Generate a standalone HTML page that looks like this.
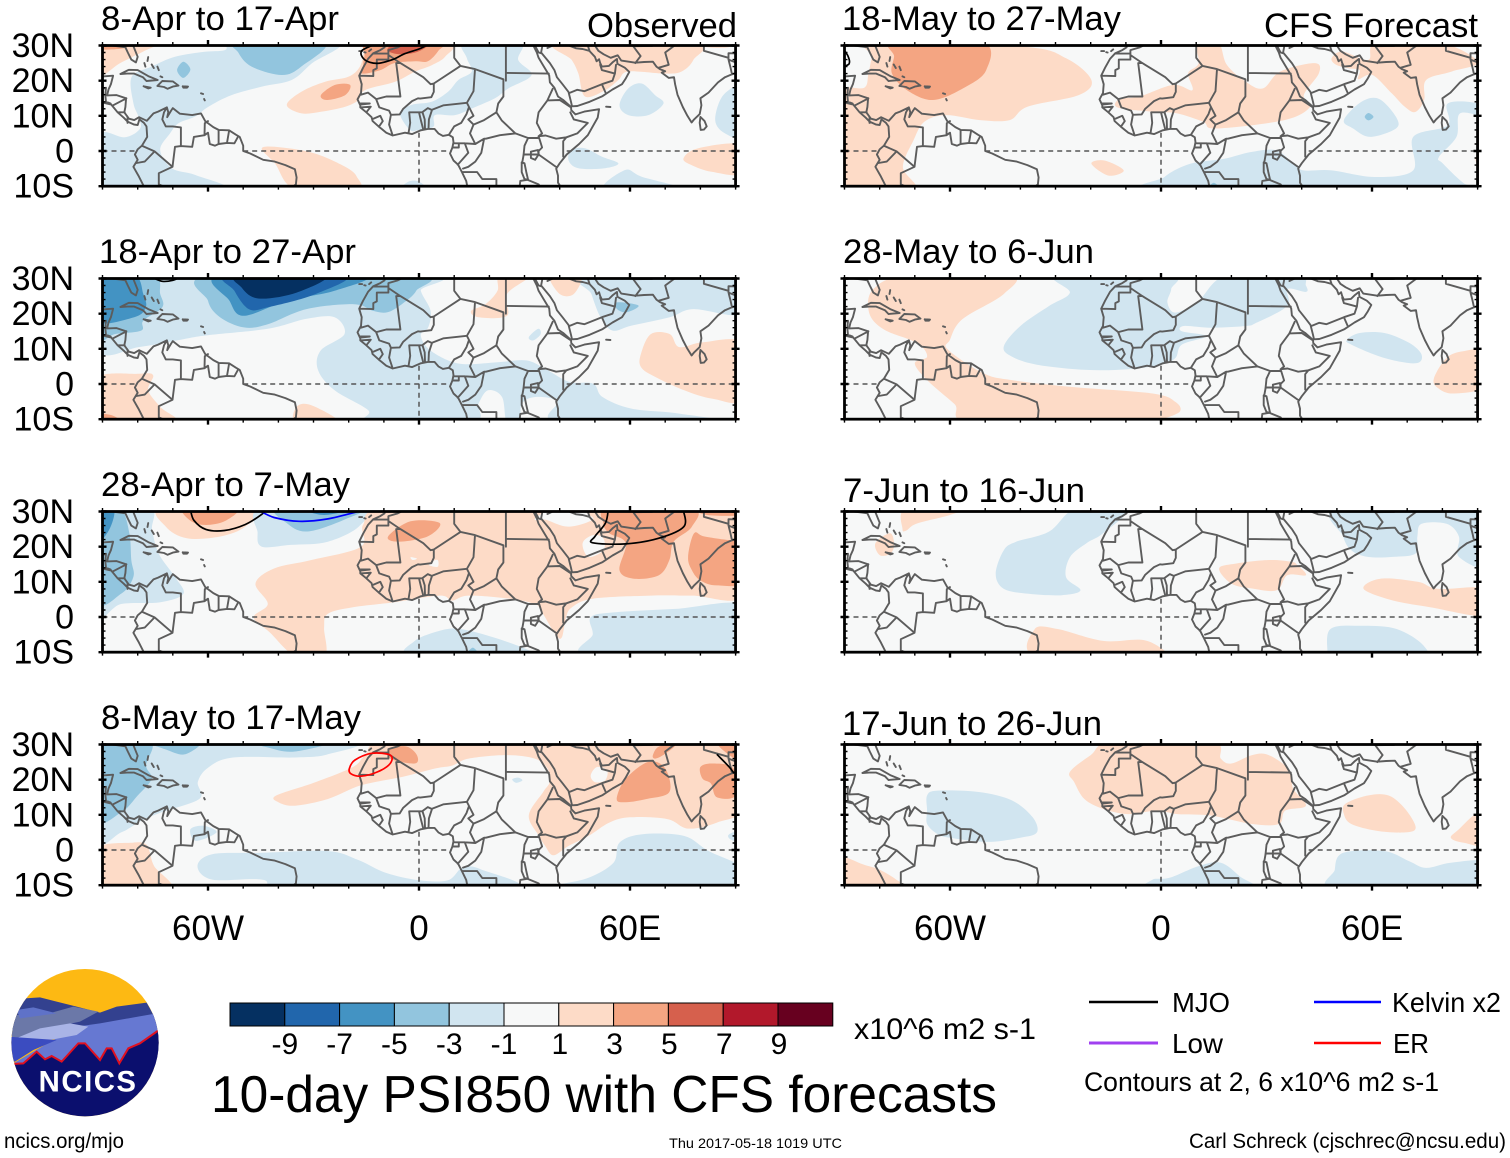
<!DOCTYPE html>
<html lang="en">
<head>
<meta charset="utf-8">
<title>10-day PSI850 with CFS forecasts</title>
<style>
html,body{margin:0;padding:0;background:#fff;width:1510px;height:1158px;overflow:hidden}
svg{display:block}
text{font-family:"Liberation Sans",sans-serif;fill:#000}
</style>
</head>
<body>
<svg id="chart" xmlns="http://www.w3.org/2000/svg" width="1510" height="1158" viewBox="0 0 1510 1158">
  <g id="panels"></g>

  <g font-size="34">
    <text x="101" y="30" textLength="238" lengthAdjust="spacingAndGlyphs">8-Apr to 17-Apr</text>
    <text x="99" y="263" textLength="257" lengthAdjust="spacingAndGlyphs">18-Apr to 27-Apr</text>
    <text x="101" y="496" textLength="249" lengthAdjust="spacingAndGlyphs">28-Apr to 7-May</text>
    <text x="101" y="729" textLength="260" lengthAdjust="spacingAndGlyphs">8-May to 17-May</text>
    <text x="842" y="30" textLength="279" lengthAdjust="spacingAndGlyphs">18-May to 27-May</text>
    <text x="843" y="263" textLength="251" lengthAdjust="spacingAndGlyphs">28-May to 6-Jun</text>
    <text x="843" y="502" textLength="242" lengthAdjust="spacingAndGlyphs">7-Jun to 16-Jun</text>
    <text x="842" y="735" textLength="260" lengthAdjust="spacingAndGlyphs">17-Jun to 26-Jun</text>
    <text x="587" y="37" textLength="150" lengthAdjust="spacingAndGlyphs">Observed</text>
    <text x="1264" y="37" textLength="214" lengthAdjust="spacingAndGlyphs">CFS Forecast</text>
  </g>

  <g id="colorbar"></g>
  <text x="854" y="1039" font-size="30" textLength="182" lengthAdjust="spacingAndGlyphs">x10^6 m2 s-1</text>
  <text x="211" y="1112" font-size="52" textLength="786" lengthAdjust="spacingAndGlyphs">10-day PSI850 with CFS forecasts</text>

  <g font-size="28">
    <g>
      <line x1="1089" y1="1002" x2="1158" y2="1002" stroke="#000" stroke-width="2.4"/>
      <text x="1172" y="1012" textLength="58" lengthAdjust="spacingAndGlyphs">MJO</text>
    </g>
    <g>
      <line x1="1314" y1="1002" x2="1381" y2="1002" stroke="#0000ff" stroke-width="2.4"/>
      <text x="1392" y="1012" textLength="109" lengthAdjust="spacingAndGlyphs">Kelvin x2</text>
    </g>
    <g>
      <line x1="1089" y1="1043" x2="1158" y2="1043" stroke="#a040f0" stroke-width="3"/>
      <text x="1172" y="1053" textLength="51" lengthAdjust="spacingAndGlyphs">Low</text>
    </g>
    <g>
      <line x1="1314" y1="1043" x2="1381" y2="1043" stroke="#ff0000" stroke-width="2.4"/>
      <text x="1393" y="1053" textLength="36" lengthAdjust="spacingAndGlyphs">ER</text>
    </g>
    <text x="1084" y="1091" font-size="27" textLength="355" lengthAdjust="spacingAndGlyphs">Contours at 2, 6 x10^6 m2 s-1</text>
  </g>

  <text x="4" y="1148" font-size="21" textLength="120" lengthAdjust="spacingAndGlyphs">ncics.org/mjo</text>
  <text x="669" y="1148" font-size="14" textLength="173" lengthAdjust="spacingAndGlyphs">Thu 2017-05-18 1019 UTC</text>
  <text x="1189" y="1148" font-size="21" textLength="317" lengthAdjust="spacingAndGlyphs">Carl Schreck (cjschrec@ncsu.edu)</text>

  <g transform="translate(0,960) scale(0.33333)">
    <defs><clipPath id="logo-clip"><circle cx="255" cy="248" r="221"/></clipPath></defs>
    <g clip-path="url(#logo-clip)">
      <rect x="0" y="0" width="510" height="500" fill="#fdb913"/>
      <polygon points="75,115 120,112 170,125 230,140 300,158 350,140 440,128 480,200 20,210" fill="#33418f"/>
      <polygon points="30,215 50,165 130,165 220,140 295,155 240,185 100,215 40,240" fill="#6b78a8"/>
      <polygon points="50,150 100,142 170,160 60,175" fill="#5f72c8"/>
      <polygon points="40,310 100,275 230,200 300,190 470,160 490,210 480,320" fill="#6678d2"/>
      <polygon points="55,232 120,205 210,190 265,200 230,225 150,240 90,245" fill="#a9b4e6"/>
      <polygon points="25,230 170,240 100,270 45,305 25,305" fill="#3b4cc0"/>
      <polygon points="30,312 70,310 110,275 135,298 155,288 185,305 235,250 255,250 300,300 320,265 335,265 358,310 385,265 420,250 480,208 490,480 20,480" fill="#0b0f6e" stroke="#e01020" stroke-width="6"/>
      <text x="262" y="395" font-size="88" font-weight="bold" text-anchor="middle" textLength="292" lengthAdjust="spacing" style="fill:#fff">NCICS</text>
    </g>
  </g>
</svg>

<script>
// ---- colour bands (contour interval 2 x10^6 m2 s-1) ----
const bandValues = [-10,-8,-6,-4,-2,0,2,4,6,8,10];
const bandColors = ['#053061','#2166ac','#4393c3','#92c5de','#d1e5f0','#f7f8f8','#fddbc7','#f4a582','#d6604d','#b2182b','#67001f'];
const colorbarTicks = ['-9','-7','-5','-3','-1','1','3','5','7','9'];

// ---- axis labels ----
const latTicks = [30,20,10,0,-10];
const latLabels = ['30N','20N','10N','0','10S'];
const lonTicks = [-60,0,60];
const lonLabels = ['60W','0','60E'];

// ---- filled anomaly regions, each [band, [[lon,lat],...]] ----
const fillsApr8 = [
 [2,[[-91,31],[-74,31],[-78,28.5],[-85,25],[-91,21.5]]],
 [4,[[-91,31],[-82,31],[-84,29.2],[-91,29]]],
 [-2,[[-51.4,31],[-22.9,31],[-30.5,24.9],[-36.2,20.2],[-44.7,18.3],[-53.3,15.9],[-59.9,12.6],[-63.7,9.8],[-68.4,7.9],[-70.8,5],[-73.6,.3],[-70.3,-4.9],[-63.7,-6.8],[-55.6,-11],[-91,-11],[-91,4.5],[-83.6,3.9],[-79.3,6.4],[-79.8,9.8],[-81.2,13.6],[-81.7,21.1],[-76,24],[-69.4,26.8],[-60.9,28.2],[-55.2,28.7]]],
 [-4,[[-51.4,31],[-27,31],[-33.5,24],[-39,21.6],[-47.6,24],[-51.4,28]]],
 [-4,[[-67,25.4],[-65,23.2],[-67,20.8],[-68.8,23]]],
 [2,[[-37.6,13.1],[-33.4,16.9],[-26.7,19.7],[-20.1,21.1],[-16.8,24],[-15.4,28.7],[-13.5,31],[8.8,31],[7.4,26.8],[3.6,24.4],[-1.1,22.6],[-6.8,19.7],[-15.4,17.3],[-17.2,14.5],[-21,12.6],[-27.7,11.2],[-33.4,10.7]]],
 [4,[[-27.9,15.9],[-23.9,18.8],[-19.6,18.8],[-21,15.9],[-26.2,14.5]]],
 [4,[[-16,23.5],[-15.5,27],[-14,31],[6,31],[5.5,28.5],[2.5,25.5],[-1,25.5],[-7,25],[-11,23],[-16,22]]],
 [6,[[-9,29],[-6,31],[3,31],[2,29.5],[-1,28],[-5,27.5],[-8,28]]],
 [-2,[[13,31],[28.7,31],[28.2,25.9],[32,21.6],[25.4,17.8],[21.6,15],[15,12.1],[10.2,10.2],[4.5,10.2],[4.1,6.9],[0,6],[-2.6,6],[-5.4,10.7],[-2.1,13.1],[3.6,14],[8.3,16.9],[11.2,20.2],[15,22.6],[13.6,26.4]]],
 [2,[[39.6,31],[78.5,31],[78,25.9],[74.7,22.6],[70,22],[59.5,22.6],[56.7,20.2],[52.9,17.3],[47.2,15.5],[45.3,22],[43.4,25.9]]],
 [2,[[80,31],[88,31],[88,29.5],[82,29.5]]],
 [-2,[[57,13],[59.5,17.8],[63.3,19.2],[67.1,15.9],[69.5,13.5],[65.2,10.2],[59.5,10.2]]],
 [-2,[[84.2,8.8],[86.5,15.9],[92,17.8],[92,4.5],[87,5]]],
 [-2,[[42.5,-2.6],[43.4,.3],[47.2,.8],[52,-1.6],[56.7,-3.5],[52.9,-4.9],[45.3,-4.9]]],
 [-2,[[53,-11],[58.6,-5.4],[63.3,-7.3],[75,-11]]],
 [2,[[75.2,-2.1],[79.4,.8],[92,1.7],[92,-6.4],[83.2,-5.9],[77.5,-4]]],
 [2,[[-44.7,.8],[-39,1],[-29.6,-.7],[-21,-4.5],[-17.7,-7.3],[-17.7,-11],[-35,-11],[-41,-3.5]]],
 [-2,[[-5,-11],[-3,-8.7],[0,-8.7],[2,-11]]]
];
const fillsApr18 = [
 [-2,[[-91,31],[.5,31],[.5,26.5],[3.3,20.8],[2.6,16.1],[.5,13.8],[3.3,9.5],[11.4,5.8],[22.3,6.2],[30.5,6.7],[35.9,4.3],[42.7,.6],[49.5,.1],[52.2,-3.7],[60.4,-7],[74,-8.4],[86,-11],[40,-11],[39.3,-5],[33.2,-3.7],[29.2,-5.6],[28.6,-11],[25,-11],[23.6,-3.7],[19.6,-1.8],[16.9,-5.6],[14.8,-11],[-14.4,-11],[-14.4,-7.5],[-24,-1.8],[-28.7,3.9],[-28,9.5],[-21.2,14.2],[-24,19],[-32.1,18.5],[-43,15.7],[-60.7,13.8],[-68.8,12.4],[-79.7,10.5],[-91,9.5]]],
 [-2,[[47.5,31],[92,31],[92,20],[78,21.3],[71.3,19],[60.4,16.6],[55,15.2],[51.6,19],[49,25.6]]],
 [-2,[[31.2,13.3],[33.9,15.7],[34.6,14.2],[32.5,12.4]]],
 [2,[[63.1,8.6],[65.9,14.2],[71.3,14.2],[74,10.5],[80.8,11.9],[92,11.4],[92,-4.2],[83.5,-4.2],[75.4,-1.8],[67.2,2],[63.1,4.8]]],
 [2,[[14.8,20.8],[18.9,22.7],[22.3,26.5],[23,31],[31.8,31],[25,25.6],[25,19.4],[16.9,19]]],
 [2,[[37.3,31],[46,31],[44,25.6],[40,25.6]]],
 [2,[[-92,1.5],[-79.7,2.9],[-75.6,2.5],[-77,-1.8],[-73.6,-6.5],[-69.5,-11],[-92,-11]]],
 [4,[[-92,-8.5],[-87,-9],[-85,-11],[-92,-11]]],
 [2,[[-34.8,-6.5],[-30.7,-6],[-22.6,-11],[-34.8,-11]]],
 [-4,[[-92,31],[-75.6,31],[-73.6,25.6],[-73,21.8],[-78.4,18],[-79,15.2],[-86.5,14.2],[-92,12.8]]],
 [-6,[[-92,31],[-81,31],[-78.4,25.6],[-77.7,21.8],[-81,19],[-92,18]]],
 [-4,[[-59.3,31],[-.8,31],[-.8,26.5],[-4.9,22.7],[-9,20.4],[-13,20.8],[-18.5,22.7],[-32,21.3],[-43,17],[-49.8,16.1],[-56.6,19],[-60,23.7]]],
 [-6,[[-56.6,31],[-15.8,31],[-24,26.5],[-37.6,23.7],[-49.8,19.4],[-53.9,23.7]]],
 [-8,[[-53.9,31],[-21.2,31],[-29.4,25.6],[-43,21.8],[-48.4,21.3],[-52.5,26.5]]],
 [-10,[[-51.2,31],[-26.7,31],[-34.8,26],[-45.7,24.3],[-50.5,27.5]]],
 [-4,[[56.3,23.2],[62.4,22.3],[59,20.4],[56.3,21.3]]]
];
const fillsApr28 = [
 [-2,[[-92,31],[-76.5,31],[-75.9,24.8],[-74,18],[-69.4,11.4],[-67,6.6],[-73.5,4.2],[-84.7,3.7],[-92,.9]]],
 [-4,[[-92,31],[-85,31],[-82.4,24],[-81.8,16.2],[-81.2,11.4],[-84.7,6.6],[-92,4.7]]],
 [-6,[[-92,31],[-86.8,31],[-88,25],[-92,21]]],
 [2,[[-73,31],[-45.9,31],[-49.4,25.7],[-56.5,22.9],[-66,22.4],[-72,25.7]]],
 [4,[[-66.5,31],[-51.8,31],[-55.3,27.2],[-61.2,26.2],[-65.4,27.7]]],
 [-2,[[-45.9,24],[-44.7,31],[-16.5,31],[-17,25.8],[-25.9,21.4],[-36.5,20.5],[-44.7,20]]],
 [-4,[[-40,31],[-16.5,31],[-21.2,27.7],[-31.8,24.3],[-37.6,26.7]]],
 [-6,[[-32.9,31],[-18.8,31],[-27,29]]],
 [2,[[-46.5,9.5],[-41.2,13.8],[-30.6,16.2],[-16.5,20],[-15.9,26.2],[-9.4,31],[31.8,31],[32.9,27.7],[35.9,27.7],[42.4,25.7],[49.4,27.7],[50.6,31],[93,31],[93,6.6],[77.6,6.1],[65.9,6.1],[49.4,5.2],[43.5,2.8],[41.8,-.1],[40.6,-5.8],[38.8,-4.9],[34.7,1.8],[32.9,3.7],[25.9,5.2],[14.1,6.1],[9.4,4.7],[5.9,6.1],[-7,4.2],[-18.8,2.8],[-25.9,.9],[-27,-3],[-26.8,-11],[-35.3,-11],[-42.4,-4.4],[-47,-.1],[-43,3.7]]],
 [0,[[46.5,21],[49.4,23.3],[52.4,22.4],[52.4,19],[48.2,17.1]]],
 [0,[[-2.4,17],[-.6,16.6],[-1.8,16.2]]],
 [0,[[3.5,15.7],[5.3,16.2],[5.3,14.3],[2.9,14.7]]],
 [4,[[-8.8,22.9],[-2.4,27.2],[5.9,26.7],[2.4,22.9],[-5.9,21.4]]],
 [4,[[54.1,31],[77.6,31],[77.6,25.7],[72.4,21.4],[71.2,16.2],[68.2,11.9],[61.2,10.9],[57,13.3],[58.8,21],[54.1,23.8],[52.4,26.7]]],
 [4,[[76.5,17.1],[78.2,23.8],[81.2,22.9],[89.4,21.9],[93,23.8],[93,10.4],[84.7,9],[80,10.4],[77.6,13.3]]],
 [4,[[79,31],[93,31],[93,29],[82,29]]],
 [-2,[[48.2,-11],[49.4,-4.9],[48.8,-.1],[55.3,1.3],[72.9,2.3],[93,3.3],[93,-11]]],
 [-2,[[-1.8,-11],[-1.2,-6.8],[5.9,-3.9],[11.8,-3.4],[21.2,-5.8],[30.6,-9.2],[31.8,-11]]],
 [-4,[[13.5,-11],[15.3,-8.7],[17,-11]]]
];
const fillsMay8 = [
 [-2,[[-92,31],[-21,31],[-25.9,27.2],[-35.3,26.3],[-52.9,26.3],[-60,23.4],[-62.9,19.3],[-62.4,14.6],[-73,10.8],[-78.8,8.4],[-84.7,5],[-92,3]]],
 [-4,[[-92,31],[-76.5,31],[-77.6,24],[-76,20.3],[-80,15.5],[-84.7,10.7],[-92,8.8]]],
 [-4,[[-77,31],[-62.4,31],[-66.5,27.2],[-71.8,28.5]]],
 [-4,[[-47,31],[-24.7,31],[-35.3,28],[-42.4,29]]],
 [2,[[-40.6,15.5],[-29.4,19.3],[-18.8,23.6],[-15.3,27],[-9.4,31],[24.7,31],[32.9,31],[35.9,31],[93,31],[93,12.6],[84.7,7.8],[76.5,6.1],[70.6,8.8],[60,9.3],[54.1,7.8],[48.2,4],[42.4,1.1],[38.2,-1.5],[35.9,1.1],[34.1,4],[31.2,9.8],[35.3,16.5],[37.1,19.3],[36.5,23.2],[32.9,26],[24.7,27],[14.1,26],[9.4,24],[4.7,23.2],[-4.7,20.8],[-16.5,18.4],[-25.9,14.5],[-35.3,12.6],[-40,13.6]]],
 [0,[[48.8,21.2],[50.6,23.6],[53.5,22.6],[52.9,19.8],[50,19.3]]],
 [-2,[[26.5,20.1],[28.2,20.6],[29.4,19.8],[27.6,19.1]]],
 [4,[[-8.2,28.9],[-3.5,29.4],[-.6,27],[-1.2,24.6],[-8.2,26]]],
 [4,[[56.2,14.5],[58.8,20.3],[65.3,25.1],[70,23.2],[71.2,16.5],[64.7,14.5],[58.8,13.6]]],
 [4,[[66.5,27],[68.2,29.4],[72.9,29.9],[69.4,27],[67,26]]],
 [4,[[80,23.6],[83.5,24.6],[89.4,23.2],[90,15.5],[84.7,15],[83,18.9],[80.6,20.3]]],
 [4,[[84.7,31],[93,31],[93,25],[88.2,27]]],
 [-2,[[-63,-4.6],[-58.8,-1.2],[-44.7,-.8],[-25.9,-.3],[-17.6,-2.7],[-9.4,-6.5],[0,-8.6],[8.2,-8.6],[12.4,-5],[17.6,-5.5],[26.5,-11.3],[-35.3,-11.3],[-44.7,-8.4],[-58.8,-8.4]]],
 [-2,[[40,-9.9],[48.2,-7.9],[55.3,-3.6],[57,2.1],[63.5,4.5],[75.3,4],[82.4,-.3],[93,-5.5],[93,-11.3],[40,-11.3]]],
 [-2,[[88.2,4.5],[93,5.9],[93,2.1],[88.8,2.9]]],
 [-2,[[-65,5.9],[-61.2,6.9],[-57.6,5],[-63.5,2.6]]],
 [2,[[-92,.2],[-81.2,2.1],[-77.6,1.6],[-76.5,-.8],[-75.3,-4.6],[-70.6,-11.5],[-92,-11.5]]]
];
const fillsMay18 = [
 [2,[[-81.3,31],[-39.3,29.7],[-27,26.4],[-19.8,20.2],[-23.4,15.9],[-38,12.6],[-43,8.8],[-51.5,8.8],[-61.2,10.2],[-67.3,8.3],[-70.4,3],[-73.4,-4.6],[-70.4,-11.2],[-92,-11.2],[-92,14.5],[-90.5,18],[-84.4,18],[-83.2,22],[-82.2,26.9]]],
 [4,[[-75.9,31],[-50.9,31],[-49.7,23],[-56.3,17.8],[-64.9,14.5],[-72.2,17.3],[-76.5,22],[-75.9,26.9]]],
 [2,[[-11.5,15],[-6.3,15.4],[3.4,18.8],[8.9,17.3],[7.7,22.1],[10.7,25],[10.1,31],[16.2,31],[18.7,24.5],[24.1,19.7],[29,17.8],[33.9,22.6],[43.7,25],[44.9,22.1],[40.6,15.9],[42.4,12.6],[35.1,8.8],[15.6,6.4],[12,8.3],[4.6,10.7],[-1.5,11.1],[-12.4,12.4]]],
 [2,[[48.5,26.4],[51.6,28.3],[58.9,25.9],[61.3,31],[79,31],[90,25.4],[82.7,22.6],[75.4,20.2],[74.8,14.5],[72.3,11.1],[69.3,12.6],[65.6,16.4],[60.1,21.6],[56.1,20.4],[56.5,23],[53.4,23.5],[49.8,24.5]]],
 [2,[[-19.8,-3.6],[-16.1,-2.7],[-10.6,-5.5],[-14.9,-7]]],
 [2,[[89.5,-1.7],[92,-1],[92,-6],[90,-4]]],
 [-2,[[52,8.8],[57,14],[62,14.8],[66.8,9.7],[66.8,6.4],[59.5,4],[54.6,6.4]]],
 [-4,[[59,10.8],[60.4,9.7],[59,8.7],[57.9,9.7]]],
 [-2,[[.4,-11.2],[1,-7.4],[8.3,-3.6],[18,-2.2],[25.4,-.3],[32.7,.2],[37.6,-3.6],[40.6,-5.5],[48.5,-5.5],[60.7,-7.4],[71.7,-5.5],[71.7,4],[81.5,7.3],[81.5,13.5],[90,13.5],[92,10],[85,10.7],[84,4],[79,-1.7],[80.2,-3.6],[86.3,-9.3],[91,-11.2]]],
 [-4,[[13.2,-11],[15,-9],[16.8,-11]]]
];
const fillsMay28 = [
 [2,[[-71.8,31],[-43,31],[-44.7,25.6],[-56.5,18.4],[-60,12.6],[-60.6,9.8],[-50.6,3.1],[-42.4,1.1],[-25.9,-.8],[-2.4,-2.7],[4.1,-5.1],[5.3,-7.9],[0,-10.3],[0,-11.3],[-52.4,-11.3],[-58.8,-5.6],[-66.5,1.1],[-70,5.9],[-66.5,7.8],[-69.4,11.7],[-78.8,15.5],[-83,20.3],[-81.8,27]]],
 [2,[[77.6,1.6],[81.2,7.4],[85.9,9.3],[93,9.3],[93,-.3],[83.5,-2.7],[78.8,-1.2]]],
 [-2,[[-44.7,10.7],[-40,16.5],[-31.8,22.2],[-25.9,26],[-29.4,31],[2.4,31],[2.9,27],[1.8,23.2],[4.1,20.3],[10.6,23.6],[18.8,31],[38.8,31],[41.2,28],[41.2,26.2],[35.9,27],[35.9,22.2],[27.1,17.4],[24.1,16.5],[14.1,16],[6.5,16.5],[5.9,15],[12.9,13.6],[5.9,11.2],[4.1,7.4],[0,5.5],[-9.4,4.2],[-21.2,4],[-35.3,5.5],[-42.4,7.8]]],
 [-2,[[52.9,12.6],[56.5,14.5],[63.5,14.5],[70.6,11.7],[74.1,8.3],[72.4,5.9],[63.5,7.4],[54.1,11.2]]]
];
const fillsJun7 = [
 [2,[[-73.5,25],[-72.4,31],[-56.5,31],[-60,29],[-69.4,26.6],[-72.4,24.6]]],
 [2,[[-81.2,21],[-77,23.8],[-75.9,20.5],[-77,18],[-80,17.6]]],
 [-2,[[-47,12.3],[-44.7,19],[-41.2,21.4],[-31.8,24.3],[-24,31],[-9.4,31],[-16.5,23.8],[-21.2,21],[-25.9,17],[-27,11.3],[-22.9,7.6],[-28.2,6.2],[-37.6,6.6],[-44.7,8]]],
 [-2,[[50.6,31],[93,31],[93,14.7],[84.7,17.1],[84.7,22.9],[81.2,26.5],[74.1,26.5],[72.9,22.9],[72.4,18.1],[65.9,17.1],[58.8,17.1],[54.1,19],[51.8,22.9]]],
 [2,[[16.5,13.8],[21.2,15.2],[30.6,16.2],[37.1,15.7],[38.8,14.7],[41.2,11.9],[35.9,11.9],[32.9,7.6],[25.9,8.1],[20,9.5]]],
 [2,[[57.6,8],[62.4,10.9],[73,10],[78.8,8],[93,8],[93,.4],[76.5,2.8],[65.9,4.7]]],
 [2,[[-35.9,-3.4],[-29.4,-3.4],[-16.5,-6.8],[-4.7,-6.6],[2.4,-10.6],[3,-11.5],[-34.7,-11.5]]],
 [-2,[[47.3,-9.7],[48.2,-3.4],[56.5,-2.5],[67,-3.4],[74.7,-8.2],[73,-11.3],[48,-11.3]]]
];
const fillsJun17 = [
 [2,[[-25.9,22.2],[-20,27],[-13.5,31],[14.1,31],[17,26],[20,24.6],[25.9,27],[30.6,27],[36.5,22.7],[37.6,17.4],[41.2,12.6],[35.3,11.2],[33.5,7.4],[25.9,7.4],[14.1,9.8],[4.7,10.2],[-1.2,11.2],[-9.4,10.2],[-16.5,11.7],[-21.8,14.5],[-24.7,19.3]]],
 [2,[[52,10.2],[52.4,13.1],[58.8,15.5],[64.7,15.5],[69.4,11.7],[72.4,6.4],[69.4,5],[61.2,5.5],[54.1,7.4]]],
 [2,[[82.4,3.5],[84.7,5.9],[89.4,10.2],[93,10.7],[93,1.6],[85.9,2.1]]],
 [-2,[[-66.5,11.2],[-66.5,15.5],[-63.5,16.9],[-51.8,16.5],[-42.4,14.1],[-36.5,9.3],[-35.3,5],[-40,3.5],[-49.4,2.3],[-60,3.5],[-63.5,4.5],[-66.5,7.4]]],
 [-2,[[-2.9,-11.3],[-2.4,-8.4],[2.4,-7.9],[10.6,-4.6],[17,-3.6],[22.4,-7.5],[25.9,-11.3]]],
 [-2,[[50,-11.3],[49.4,-5.6],[51.8,-.8],[63.5,-.3],[70.6,-3.2],[75.3,-5.1],[82.4,-3.6],[93,-3.4],[93,-11.3]]],
 [2,[[-92,-2.2],[-89.4,-2.2],[-84.7,-4.1],[-80,-5.6],[-75.3,-8.4],[-72,-11.5],[-92,-11.5]]]
];

// ---- wave-filter contours, each [wave, closed, [[lon,lat],...]] ----
const linesApr8 = [['mjo',false,[[-12,30.5],[-16.3,28.5],[-15.5,26],[-12,24.9],[-7.5,26],[-4,27.7],[0,29],[2.5,30.2]]]];
const linesApr18 = [['mjo',false,[[-75.6,30.2],[-73,29.2],[-70,29.5],[-68,30.4]]]];
const linesApr28 = [
 ['mjo',false,[[-65,30.6],[-64,27.5],[-60.6,24.9],[-55.3,24.6],[-49.4,26.3],[-44.7,29.2],[-43.5,30.5]]],
 ['kelvin',false,[[-45.3,30.2],[-41.2,28.3],[-34.1,27.2],[-25.9,27.9],[-16.5,30.2]]],
 ['mjo',false,[[53.8,30.5],[53,26.7],[50,22.9],[49.4,21.1],[58.8,20.8],[68.2,22.4],[75.3,25.7],[75.1,30.5]]]
];
const linesMay8 = [
 ['er',true,[[-19.8,23.2],[-18.2,25.6],[-13.5,27.5],[-8.2,27],[-8.2,24.6],[-11.8,22.2],[-16.5,21],[-19.4,21.7]]],
 ['mjo',false,[[84.7,27.2],[88.2,23.6],[89.6,21.8]]]
];
const linesMay18 = [['mjo',false,[[-90.5,29.2],[-89,27],[-88.7,24.8],[-90.5,24]]]];
const linesMay28 = [];
const linesJun7 = [];
const linesJun17 = [];
const waveColors = {mjo:'#000000',kelvin:'#0000ff',low:'#a040f0',er:'#ff0000'};

// ---- geography: coastlines, islands, lakes and national borders as [lon,lat] ----
const coastlines = [
 [[-9.7,31],[-9.8,29.5],[-11,28.7],[-13,27.8],[-14.5,26.2],[-15.9,23.7],[-17,21.4],[-16.3,19],[-16.5,16.5],[-17.5,14.7],[-16.7,13],[-16.7,12.4],[-15,11],[-13.5,9.6],[-13.2,8.5],[-11.4,6.9],[-9.3,5.2],[-7.5,4.4],[-4,5.2],[-2,4.8],[.5,5.9],[2.5,6.3],[4.4,6.3],[5.5,5],[6.8,4.3],[8.5,4.6],[9.6,3.9],[9.8,2.5],[9.5,1],[8.8,-.7],[9.8,-2.7],[11.1,-3.9],[12.2,-6],[13.4,-8.5],[13.8,-10.5],[13.8,-11]],
 [[32.5,31],[32.5,30],[33.5,28],[34,26.5],[35.5,24],[37,21.5],[37.2,19.5],[38.5,18],[39.5,15.5],[41,14.5],[43.2,12.5],[43.3,11.6],[44.5,10.4],[47,11.2],[51.2,11.9],[50.8,9.5],[48,4.5],[45.5,2],[42,-1],[40,-3.5],[39,-5],[39.5,-7],[39.5,-9],[40.5,-10.5],[40.5,-11]],
 [[33,29.9],[34,28],[34.7,27.8]],
 [[35,29.5],[34.7,28],[37.2,25],[38.5,23],[39.2,21],[40.8,19],[42.5,16.8],[43.2,14],[43.5,12.7],[45,12.8],[48.5,14],[52.2,15.6],[55,17.5],[57.7,19],[58.7,20.5],[59.8,22.5],[58.5,23.7],[56.4,24.8],[56.3,26.2],[55,25.2],[54,24.2],[52,24],[51.5,25],[51.2,26.1],[50.5,25.5],[50,26.8],[48.5,28.4],[48,30],[48.5,30.2],[50,30],[51,28.5],[52.5,27.5],[54.5,26.5],[56.5,27.2],[57.5,25.7],[61.5,25.1],[64,25.3],[66.5,25.4],[67.5,24],[68.5,23.3],[70,22.7],[69,22.3],[71,20.8],[72.5,21],[72.8,19],[73.5,16],[75,12.5],[76.3,10],[77.5,8.1],[78.2,9],[79.8,10.5],[80.3,13],[80,15],[82.3,16.6],[85,19.5],[87,21],[89,21.8],[91,22.5],[92,21]],
 [[80,9.7],[81.2,8.5],[81.8,7],[81,6.1],[80.1,6],[79.8,8],[80,9.7]],
 [[-81.5,30.5],[-80,26.8],[-80.5,25.2],[-81.8,26],[-82.8,28],[-83.5,29.5],[-85,29.7],[-89,30.2],[-91,29.5]],
 [[-91,18.5],[-90.5,20.5],[-90,21.2],[-87,21.4],[-87.6,19],[-88.3,17.5],[-88.7,15.8],[-86,15.9],[-83.3,15],[-83.5,12.5],[-83.8,11],[-82.5,9.2],[-81,8.8],[-79.6,9.6],[-77.4,8.6],[-75.5,10.7],[-74.2,11.2],[-71.7,12.4],[-71.3,11],[-71.6,9.6],[-70.5,11.5],[-70,12.2],[-68,10.6],[-64.5,10.2],[-62,10.7],[-60.8,8.5],[-58.5,6.8],[-57,6],[-54,5.9],[-52,4.6],[-51,4],[-50,1.5],[-50,0],[-48,-.7],[-44.3,-2.5],[-41,-3],[-38,-4],[-35.3,-5.2],[-34.8,-7.5],[-35,-9.5],[-36.5,-10.7],[-37,-11]],
 [[-91.5,14],[-90,13.8],[-87.5,13.2],[-85.7,11],[-84,9.5],[-82.8,8.3],[-81,7.5],[-80,7.4],[-79.5,9],[-78.2,8],[-77.5,7],[-77.3,4],[-78.8,1.5],[-80,.5],[-80.8,-1],[-80,-2.5],[-81.2,-4.5],[-79.8,-7],[-78.5,-9.5],[-77.8,-11]],
 [[-84.9,21.9],[-82.5,23.1],[-80,23],[-77,21.3],[-74.3,20.2],[-77.5,19.9],[-78.5,21],[-81,22],[-83,22],[-84.9,21.9]],
 [[-74.4,18.5],[-73,19.9],[-70,19.8],[-68.4,18.6],[-70,18.3],[-71.5,17.7],[-72.5,18.2],[-74.4,18.5]],
 [[-78.3,18.4],[-76.3,18],[-77,17.8],[-78.3,18.4]],
 [[-67.2,18.4],[-65.7,18.3],[-66,18],[-67,18],[-67.2,18.4]],
 [[-78.1,25],[-77.8,24]],[[-77,26.7],[-77.2,25.6]],[[-76,24.6],[-75.4,23.6]],[[-74.4,24],[-74,23]],[[-73.5,21.2],[-73,21]],
 [[-62,16.4],[-61.4,16.2]],[[-61.1,14.8],[-60.9,14.4]],
 [[-17,28.4],[-16.2,28.4]],[[-15.6,28.1],[-15.2,28]],[[-14.2,28.4],[-13.6,28.9]],
 [[53.2,12.6],[54.4,12.5]],
 [[31.8,-.2],[33.8,.3],[34,-1],[33,-2.5],[31.8,-2],[31.8,-.2]],
 [[29.2,-3.2],[30,-3.5],[30.5,-6],[31,-8.2],[30,-8],[29.2,-6],[29.2,-3.2]]
];
const borders = [
 [[-8.7,27.7],[-13,27.7]],
 [[-8.7,27.7],[-8.7,28.7],[-6,29.5],[-4,30.5],[-3.5,31]],
 [[-17,21.4],[-13,21.3],[-13,23],[-12,23.5],[-12,26],[-8.7,26],[-8.7,27.7]],
 [[-8.7,27.3],[-5.3,25],[1.2,21],[3.3,19],[4.2,19.2]],
 [[-5.3,25],[-6.5,25],[-5.3,15.5],[-9.3,15.5],[-12,14.8]],
 [[-16.5,16],[-14.5,16.6],[-12.2,14.8],[-11.3,12.4],[-8.5,11.5],[-8,10.3],[-5.5,10.4]],
 [[4.2,19.2],[4.2,16.8],[3.5,15.3],[.3,14.9],[-.3,15],[-2,14.2],[-4.5,12],[-5.5,10.4]],
 [[4.2,19.2],[11.8,24.2],[15.9,23.3],[24,20.4]],
 [[11.8,24.2],[10,26.5],[10,31]],
 [[24.7,31],[24.7,20]],
 [[24.7,22.2],[36.9,22]],
 [[24,20.4],[24,15.5],[22.5,13.5],[22,11],[23.5,8.7],[27.4,5],[31,3.7]],
 [[15.9,23.3],[15.5,17],[13.6,13.7],[10,13.3],[7,13],[3.6,11.7]],
 [[3.6,11.7],[2.5,12.2],[.9,11]],
 [[-2.8,11],[.9,11]],
 [[0,11],[.6,8.5],[1.2,6.1]],
 [[1,11],[1.6,9],[1.7,6.2]],
 [[3.7,11.7],[2.8,9],[2.7,6.3]],
 [[-2.8,11],[-2.5,8],[-3,5.1]],
 [[-7.5,4.4],[-8.5,7.5],[-8,10.3]],
 [[-11.4,6.9],[-10.3,8.5],[-11,10],[-13,9.2]],
 [[-15,11],[-13.7,12.6],[-16.7,12.4]],
 [[-16.7,13.5],[-14,13.5],[-16.7,13.2]],
 [[8.5,4.6],[10,7],[12,8],[13.5,10.5],[14.2,12.5],[13.6,13.7]],
 [[14.2,12.5],[15.5,10],[14,9],[15.5,7.5],[14.5,5],[16,2],[13,2.2],[9.8,2.2]],
 [[15.5,7.5],[18.5,8.8],[22,11]],
 [[27.4,5],[23,4.5],[19,3.5],[18.5,3.5],[17.7,-.5],[16,-3],[14,-4.5],[12.5,-5]],
 [[16,2],[18.5,3.5]],
 [[13,2.2],[14,-.5],[11,-3.9]],
 [[9.5,1],[11.3,1],[11.3,2.2]],
 [[12.2,-6],[16.5,-6],[18,-8],[22,-8],[22,-11]],
 [[31,3.7],[30,1.5],[29.7,-1.3],[29.3,-3.5]],
 [[30.8,-8.2],[28.8,-8.5],[28.5,-11]],
 [[30.8,-8.2],[34,-9.5],[35,-11]],
 [[31,3.7],[34,3.7],[34,4.2],[35,1],[34,0],[34,-1],[39.2,-4.7]],
 [[29.7,-1],[34,-1]],
 [[34,4.2],[36,4.4],[39,3.5],[41.9,3.9],[41,2.8],[41,-1.6]],
 [[41.9,3.9],[45,5],[48,8],[44,9],[43,11]],
 [[34,4.2],[35,5],[33.5,8],[34,11],[36.5,14.4],[38,17.7]],
 [[36.5,14.4],[40,14.5],[43,12.5]],
 [[36.5,29.3],[38,30],[40,31]],
 [[40,31],[44.7,29.2],[46.5,29],[48.4,28.5]],
 [[48,30.3],[47.5,31]],
 [[43,16.6],[45,17.4],[47,17],[52,19],[55,20],[55.7,22],[52,23],[51.5,24.5]],
 [[52,19],[53,16.7]],
 [[55.7,22],[56,24.5]],
 [[61.5,25],[63,27],[60.9,29.8],[61,31]],
 [[60.9,29.8],[66.3,29.9],[67,31]],
 [[68.2,23.7],[71,24.5],[70,28],[74,31]],
 [[79,30.5],[81,30],[81,28.5],[88,26.5],[88,27.8],[92,27.7]],
 [[88,26.5],[88,26],[88.5,24],[89,21.8]],
 [[88,26],[90,25.2],[92,25],[91,23],[91.5,22.5]],
 [[91,28],[92,26],[93,25]],
 // South and Central America
 [[-71.7,12.4],[-72.5,11],[-73,9],[-72,7],[-70,7],[-67.7,6.7],[-67.7,1.4],[-69.4,1.2],[-70.1,-4.5]],
 [[-67.7,1.4],[-64.5,1.2],[-64,4],[-61,4.5],[-60.9,7.9],[-60,8.5]],
 [[-61,4.5],[-60,5.2],[-59.5,2],[-58,1.5],[-57,2],[-57,6]],
 [[-57,2],[-54.6,2.3],[-54,5.8]],
 [[-54.6,2.3],[-52.5,2.2],[-51.5,4]],
 [[-78.8,1.5],[-75.2,-.1],[-70.1,-4.5]],
 [[-80.3,-3.4],[-78,-3],[-75.2,-.1]],
 [[-70.1,-4.5],[-74,-6.3],[-74,-9.5],[-70.5,-11]],
 [[-89.2,15.9],[-89,14],[-87.7,13.5]],
 [[-91,17.8],[-89,17.8],[-89,18],[-89.2,15.9]],
 [[-83.2,15],[-87,13]],
 [[-85.7,11],[-83.7,11]],
 [[-82.9,9.5],[-82.9,8]]
];

// ---- layout ----
const PANEL_W = 633, PANEL_H = 140.7;
const PX_PER_DEG = 3.517;
const columns = [102.5, 844.5];
const rows = [45.5, 278.5, 511.5, 744.5];
const panelDefs = [
 {id:'8-apr',col:0,row:0,fills:fillsApr8,lines:linesApr8},
 {id:'18-apr',col:0,row:1,fills:fillsApr18,lines:linesApr18},
 {id:'28-apr',col:0,row:2,fills:fillsApr28,lines:linesApr28},
 {id:'8-may',col:0,row:3,fills:fillsMay8,lines:linesMay8},
 {id:'18-may',col:1,row:0,fills:fillsMay18,lines:linesMay18},
 {id:'28-may',col:1,row:1,fills:fillsMay28,lines:linesMay28},
 {id:'7-jun',col:1,row:2,fills:fillsJun7,lines:linesJun7},
 {id:'17-jun',col:1,row:3,fills:fillsJun17,lines:linesJun17}
];
// grid dashes are only drawn over ocean
const equatorOcean = [[-90,-80.2],[-50,9.3],[42,90]];
const meridianOcean = [-10,5.2];

const NS = 'http://www.w3.org/2000/svg';
function mk(tag, attrs, parent){
  const el = document.createElementNS(NS, tag);
  for (const k in attrs) el.setAttribute(k, attrs[k]);
  parent.appendChild(el);
  return el;
}
function xAxis(col){ return lon => columns[col] + (lon + 90) * PX_PER_DEG; }
function yAxis(row){ return lat => rows[row] + (30 - lat) * PX_PER_DEG; }
function bandColor(v){ return bandColors[bandValues.indexOf(v)]; }
function smoothClosed(pts){
  const n = pts.length; let d = 'M' + pts[0][0].toFixed(1) + ' ' + pts[0][1].toFixed(1);
  for (let i = 0; i < n; i++){
    const p0 = pts[(i-1+n)%n], p1 = pts[i], p2 = pts[(i+1)%n], p3 = pts[(i+2)%n];
    const c1 = [p1[0]+(p2[0]-p0[0])/6, p1[1]+(p2[1]-p0[1])/6];
    const c2 = [p2[0]-(p3[0]-p1[0])/6, p2[1]-(p3[1]-p1[1])/6];
    d += 'C' + c1[0].toFixed(1)+' '+c1[1].toFixed(1)+' '+c2[0].toFixed(1)+' '+c2[1].toFixed(1)+' '+p2[0].toFixed(1)+' '+p2[1].toFixed(1);
  }
  return d + 'Z';
}
function smoothOpen(pts){
  const n = pts.length; let d = 'M' + pts[0][0].toFixed(1) + ' ' + pts[0][1].toFixed(1);
  for (let i = 0; i < n-1; i++){
    const p0 = pts[Math.max(i-1,0)], p1 = pts[i], p2 = pts[i+1], p3 = pts[Math.min(i+2,n-1)];
    const c1 = [p1[0]+(p2[0]-p0[0])/6, p1[1]+(p2[1]-p0[1])/6];
    const c2 = [p2[0]-(p3[0]-p1[0])/6, p2[1]-(p3[1]-p1[1])/6];
    d += 'C' + c1[0].toFixed(1)+' '+c1[1].toFixed(1)+' '+c2[0].toFixed(1)+' '+c2[1].toFixed(1)+' '+p2[0].toFixed(1)+' '+p2[1].toFixed(1);
  }
  return d;
}
function polyPath(lines, x, y){
  return lines.map(l => 'M' + l.map(p => x(p[0]).toFixed(1) + ' ' + y(p[1]).toFixed(1)).join('L')).join('');
}

const root = document.getElementById('panels');
panelDefs.forEach(function(p){
  const x = xAxis(p.col), y = yAxis(p.row);
  const x0 = x(-90), x1 = x(90), yTop = y(30), yBot = y(-10);
  const g = mk('g', {}, root);
  
  

  const clipId = 'clip-' + p.id;
  const cp = mk('clipPath', {id: clipId}, g);
  mk('rect', {x: x0, y: yTop, width: x1 - x0, height: yBot - yTop}, cp);

  const plot = mk('g', {'clip-path': 'url(#' + clipId + ')'}, g);
  
  
  const bg = mk('rect', {x: x0, y: yTop, width: x1 - x0, height: yBot - yTop, fill: bandColor(0)}, plot);
  
  

  p.fills.forEach(function(f){
    const pts = f[1].map(q => [x(q[0]), y(q[1])]);
    const el = mk('path', {d: smoothClosed(pts), fill: bandColor(f[0])}, plot);
    
    
  });

  const grid = mk('path', {
    d: equatorOcean.map(r => 'M'+x(r[0]).toFixed(1)+' '+y(0).toFixed(1)+'L'+x(r[1]).toFixed(1)+' '+y(0).toFixed(1)).join('') +
       'M'+x(0).toFixed(1)+' '+y(meridianOcean[1]).toFixed(1)+'L'+x(0).toFixed(1)+' '+y(meridianOcean[0]).toFixed(1),
    fill: 'none', stroke: '#555', 'stroke-width': 1.5, 'stroke-dasharray': '5 4'
  }, plot);
  
  

  const land = mk('path', {d: polyPath(coastlines.concat(borders), x, y), fill: 'none', stroke: '#5c5c5c', 'stroke-width': 1.9, 'stroke-linejoin': 'round', 'stroke-linecap': 'round'}, plot);
  
  

  p.lines.forEach(function(l){
    const pts = l[2].map(q => [x(q[0]), y(q[1])]);
    const el = mk('path', {d: l[1] ? smoothClosed(pts) : smoothOpen(pts), fill: 'none', stroke: waveColors[l[0]], 'stroke-width': 1.7}, plot);
    
    
  });

  // frame and ticks
  let major = '', minor = '';
  for (let lon = -90; lon <= 90; lon += 10){
    const isMajor = lonTicks.indexOf(lon) >= 0;
    const len = isMajor ? 5.5 : 3.5, X = x(lon).toFixed(1);
    const s = 'M'+X+' '+(yTop-len)+'L'+X+' '+yTop+'M'+X+' '+yBot+'L'+X+' '+(yBot+len);
    if (isMajor) major += s; else minor += s;
  }
  for (let lat = -10; lat <= 30; lat += 2){
    const Y = y(lat).toFixed(1);
    if (lat % 10 === 0){
      major += 'M'+(x0-4)+' '+Y+'L'+(x0+4)+' '+Y+'M'+(x1-4)+' '+Y+'L'+(x1+4)+' '+Y;
    } else {
      minor += 'M'+(x0-1)+' '+Y+'L'+(x0+3)+' '+Y+'M'+(x1-3)+' '+Y+'L'+(x1+1)+' '+Y;
    }
  }
  const mi = mk('path', {d: minor, stroke: '#000', 'stroke-width': 1.4, fill: 'none'}, g);
  
  
  const ma = mk('path', {d: major, stroke: '#000', 'stroke-width': 2.4, fill: 'none'}, g);
  
  
  const fr = mk('rect', {x: x0, y: yTop, width: x1 - x0, height: yBot - yTop, fill: 'none', stroke: '#000', 'stroke-width': 2.8}, g);
  
  

  if (p.col === 0){
    latTicks.forEach(function(lat, i){
      const t = mk('text', {x: 74, y: y(lat) + 11.5, 'text-anchor': 'end', 'font-size': 34}, g);
      t.textContent = latLabels[i];
      
      
    });
  }
  if (p.row === 3){
    lonTicks.forEach(function(lon, i){
      const t = mk('text', {x: x(lon), y: 940, 'text-anchor': 'middle', 'font-size': 35}, g);
      t.textContent = lonLabels[i];
      
      
    });
  }
});

// ---- colour bar ----
const cbG = document.getElementById('colorbar');
const cbX = 230, cbW = 54.8, cbY = 1003, cbH = 23;
bandColors.forEach(function(c, i){
  const r = mk('rect', {x: cbX + i*cbW, y: cbY, width: cbW, height: cbH, fill: c, stroke: '#000', 'stroke-width': 1}, cbG);
  
  
});
colorbarTicks.forEach(function(lab, i){
  const t = mk('text', {x: cbX + (i+1)*cbW + (lab.charAt(0)==='-' ? 0 : 1), y: 1054, 'text-anchor': 'middle', 'font-size': 30}, cbG);
  t.textContent = lab;
  
  
});
</script>
</body>
</html>
